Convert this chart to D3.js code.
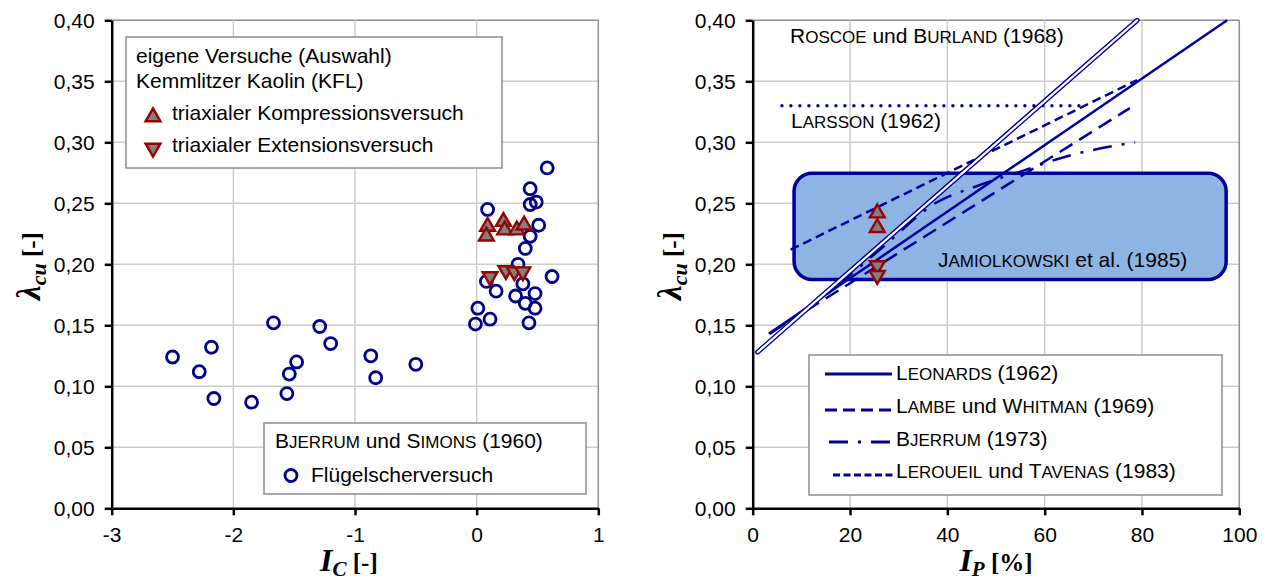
<!DOCTYPE html>
<html>
<head>
<meta charset="utf-8">
<script src="https://cdn.jsdelivr.net/npm/d3@7"></script>
<style>
  body { margin: 0; background: #fff; }
  text { font-family: "Liberation Sans", Arial, sans-serif; fill: #000; white-space: pre; }
</style>
</head>
<body>
<svg id="chart" width="1269" height="585"></svg>
<script>
"use strict";

// ---- Data, left chart (I_C vs lambda_cu) ----
// Bjerrum & Simons (1960), vane shear tests
var vaneIc     = [-2.50, -2.18, -2.28, -2.16, -1.85, -1.67, -1.48, -1.54, -1.56, -1.29, -1.20, -0.87, -0.83, -0.50,
                  -0.01, 0.01, 0.58, 0.44, 0.49, 0.44, 0.09, 0.51, 0.44, 0.40, 0.34, 0.62, 0.08, 0.38, 0.16, 0.32,
                  0.48, 0.40, 0.48, 0.11, 0.43];
var vaneLambda = [0.124, 0.132, 0.112, 0.090, 0.087, 0.152, 0.120, 0.110, 0.094, 0.149, 0.135, 0.125, 0.107, 0.118,
                  0.151, 0.164, 0.279, 0.262, 0.251, 0.249, 0.245, 0.232, 0.223, 0.213, 0.200, 0.190, 0.186, 0.184, 0.178, 0.174,
                  0.176, 0.168, 0.164, 0.155, 0.152];
// own tests, Kemmlitzer Kaolin
var compIc     = [0.09, 0.08, 0.22, 0.23, 0.33, 0.39];
var compLambda = [0.231, 0.223, 0.235, 0.228, 0.228, 0.232];
var extIc      = [0.11, 0.24, 0.31, 0.38];
var extLambda  = [0.190, 0.195, 0.194, 0.194];

// ---- Data, right chart (I_P vs lambda_cu) ----
var leonardsIp     = [3.3, 97.5];
var leonardsLambda = [0.143, 0.400];
var lambeIp        = [11, 77.5];
var lambeLambda    = [0.162, 0.328];
var bjerrumIp      = [3.5, 16, 27, 37.5, 46, 55, 65, 78.6];
var bjerrumLambda  = [0.143, 0.178, 0.215, 0.250, 0.264, 0.276, 0.289, 0.300];
var leroueilIp     = [7.8, 79];
var leroueilLambda = [0.212, 0.351];
var roscoeIp       = [1, 79];
var roscoeLambda   = [0.128, 0.400];
var larssonIp      = [6, 68];
var larssonLambda  = [0.33, 0.33];
var jamiolIp       = [8.5, 97.3];
var jamiolLambda   = [0.1875, 0.2746];
var ownCompIp      = [25.6, 25.6];
var ownCompLambda  = [0.242, 0.230];
var ownExtIp       = [25.6, 25.6];
var ownExtLambda   = [0.199, 0.191];

// ---- Axis ticks ----
var yTicks     = [0, 0.05, 0.10, 0.15, 0.20, 0.25, 0.30, 0.35, 0.40];
var icTicks    = [-3, -2, -1, 0, 1];
var ipTicks    = [0, 20, 40, 60, 80, 100];

// Colours
var blue = "#00009c";
var circleBlue = "#000088";
var darkRed = "#990000";

var svg = d3.select("#chart");
var fmt = d3.formatLocale({decimal: ",", thousands: ".", grouping: [3], currency: ["", "€"]}).format(".2f");

// Plot frames
var plotTop = 20.3, plotBottom = 508.3;
var y = d3.scaleLinear().domain([0, 0.4]).range([plotBottom, plotTop]);
var xL = d3.scaleLinear().domain([-3, 1]).range([111.7, 598.3]);
var xR = d3.scaleLinear().domain([0, 100]).range([752.7, 1239.3]);

// Text helper with mixed font sizes (small caps)
function rich(g, x, yy, pieces, anchor) {
  var t = g.append("text")
    .attr("x", x)
    .attr("y", yy)
    .attr("text-anchor", anchor || "start")
    .attr("font-size", 21);
  pieces.forEach(function (p) {
    t.append("tspan").attr("font-size", p[1]).text(p[0]);
  });
  return t;
}

// Frame, grid and axes for one chart
function drawFrame(x, ticks, fmtX) {
  var g = svg.append("g");
  // grid
  g.selectAll(".hgrid")
    .data(yTicks.slice(1))
    .enter().append("line")
      .attr("x1", x.range()[0]).attr("x2", x.range()[1])
      .attr("y1", d => y(d)).attr("y2", d => y(d))
      .attr("stroke", d => d === 0.4 ? "#8c8c8c" : "#cccccc")
      .attr("stroke-width", 1.5);
  g.selectAll(".vgrid")
    .data(ticks.slice(1))
    .enter().append("line")
      .attr("x1", d => x(d)).attr("x2", d => x(d))
      .attr("y1", plotTop).attr("y2", plotBottom)
      .attr("stroke", (d, i) => i === ticks.length - 2 ? "#8c8c8c" : "#cccccc")
      .attr("stroke-width", 1.5);

  var yAxis = g.append("g")
    .attr("transform", `translate(${x.range()[0]},0)`)
    .call(d3.axisLeft(y).tickValues(yTicks).tickFormat(fmt).tickSize(7).tickSizeOuter(0).tickPadding(10));
  var xAxis = g.append("g")
    .attr("transform", `translate(0,${plotBottom})`)
    .call(d3.axisBottom(x).tickValues(ticks).tickFormat(fmtX).tickSize(7).tickSizeOuter(0).tickPadding(12));
  [yAxis, xAxis].forEach(function (a) {
    a.select(".domain").attr("stroke", "#000").attr("stroke-width", 2.5);
    a.selectAll(".tick line").attr("stroke", "#000").attr("stroke-width", 2.5);
    a.selectAll(".tick text")
      .attr("font-size", 21)
      .attr("font-family", "'Liberation Sans', Arial, sans-serif")
      .attr("fill", "#000");
  });
  return g;
}

// Axis titles
function yTitle(cx) {
  var t = svg.append("g")
    .attr("transform", `translate(${cx},266) rotate(-90)`)
    .append("text")
      .attr("text-anchor", "middle")
      .style("font-family", "'Liberation Serif', 'Times New Roman', serif")
      .style("font-weight", "bold");
  t.append("tspan").attr("font-size", 33).style("font-style", "italic").text("λ");
  t.append("tspan").attr("font-size", 22).attr("dy", 6).style("font-style", "italic").text("cu");
  t.append("tspan").attr("font-size", 25).attr("dy", -6).text(" [-]");
}
function xTitle(cx, sub, unit) {
  var t = svg.append("text")
    .attr("x", cx)
    .attr("y", 571)
    .attr("text-anchor", "middle")
    .style("font-family", "'Liberation Serif', 'Times New Roman', serif")
    .style("font-weight", "bold");
  t.append("tspan").attr("font-size", 32).style("font-style", "italic").text("I");
  t.append("tspan").attr("font-size", 21).attr("dy", 5).style("font-style", "italic").text(sub);
  t.append("tspan").attr("font-size", 25).attr("dy", -5).text(" " + unit);
}

// Markers
var triUp = d3.symbol().type(d3.symbolTriangle).size(95);
function triangles(g, xs, ys, x, down) {
  g.selectAll(null)
    .data(xs.map((d, i) => [d, ys[i]]))
    .enter().append("path")
      .attr("d", triUp)
      .attr("transform", d => `translate(${x(d[0])},${y(d[1])})` + (down ? " rotate(180)" : ""))
      .attr("fill", "#808080")
      .attr("stroke", darkRed)
      .attr("stroke-width", 2.4);
}

// ================= LEFT CHART =================
drawFrame(xL, icTicks, d => String(d));
var left = svg.append("g");

left.selectAll(".vane")
  .data(vaneIc.map((d, i) => [d, vaneLambda[i]]))
  .enter().append("circle")
    .attr("cx", d => xL(d[0]))
    .attr("cy", d => y(d[1]))
    .attr("r", 6)
    .attr("fill", "none")
    .attr("stroke", circleBlue)
    .attr("stroke-width", 2.8);

triangles(left, compIc, compLambda, xL, false);
triangles(left, extIc, extLambda, xL, true);

// legend: own tests
left.append("rect")
  .attr("x", 126).attr("y", 37).attr("width", 376).attr("height", 131)
  .attr("fill", "#fff").attr("stroke", "#8c8c8c").attr("stroke-width", 1.5);
rich(left, 136, 63, [["eigene Versuche (Auswahl)", 21]]);
rich(left, 136, 88, [["Kemmlitzer Kaolin (KFL)", 21]]);
left.append("path").attr("d", triUp)
  .attr("transform", "translate(153,117)")
  .attr("fill", "#808080").attr("stroke", darkRed).attr("stroke-width", 2.4);
rich(left, 172, 120, [["triaxialer Kompressionsversuch", 21]]);
left.append("path").attr("d", triUp)
  .attr("transform", "translate(153,148) rotate(180)")
  .attr("fill", "#808080").attr("stroke", darkRed).attr("stroke-width", 2.4);
rich(left, 172, 152, [["triaxialer Extensionsversuch", 21]]);

// legend: Bjerrum & Simons
left.append("rect")
  .attr("x", 264).attr("y", 423).attr("width", 322).attr("height", 71)
  .attr("fill", "#fff").attr("stroke", "#8c8c8c").attr("stroke-width", 1.5);
rich(left, 275, 448, [["B", 21], ["JERRUM", 17], [" und ", 21], ["S", 21], ["IMONS", 17], [" (1960)", 21]]);
left.append("circle")
  .attr("cx", 291).attr("cy", 475.5).attr("r", 6)
  .attr("fill", "none").attr("stroke", circleBlue).attr("stroke-width", 2.8);
rich(left, 311, 482, [["Flügelscherversuch", 21]]);

yTitle(40);
xTitle(xL(-1.05), "C", "[-]");

// ================= RIGHT CHART =================
drawFrame(xR, ipTicks, d => String(d));
var right = svg.append("g");

// Jamiolkowski et al. (1985) range
right.append("rect")
  .attr("x", xR(jamiolIp[0]))
  .attr("y", y(jamiolLambda[1]))
  .attr("width", xR(jamiolIp[1]) - xR(jamiolIp[0]))
  .attr("height", y(jamiolLambda[0]) - y(jamiolLambda[1]))
  .attr("rx", 18).attr("ry", 18)
  .attr("fill", "#8db4e2")
  .attr("stroke", blue)
  .attr("stroke-width", 3.5);
rich(right, 938, 267, [["J", 21], ["AMIOLKOWSKI", 17], [" et al. (1985)", 21]]);

var line = d3.line().x(d => xR(d[0])).y(d => y(d[1]));
var curve = d3.line().x(d => xR(d[0])).y(d => y(d[1])).curve(d3.curveMonotoneX);
function series(xs, ys) { return xs.map((d, i) => [d, ys[i]]); }

// Larsson (1962), dotted
right.append("path")
  .datum(series(larssonIp, larssonLambda))
  .attr("d", line)
  .attr("fill", "none").attr("stroke", blue)
  .attr("stroke-width", 3.5).attr("stroke-linecap", "round")
  .attr("stroke-dasharray", "0 9");

// Leroueil & Tavenas (1983), short dashes
right.append("path")
  .datum(series(leroueilIp, leroueilLambda))
  .attr("d", line)
  .attr("fill", "none").attr("stroke", blue)
  .attr("stroke-width", 2.5).attr("stroke-dasharray", "9 5");

// Lambe & Whitman (1969), long dashes
right.append("path")
  .datum(series(lambeIp, lambeLambda))
  .attr("d", line)
  .attr("fill", "none").attr("stroke", blue)
  .attr("stroke-width", 2.5).attr("stroke-dasharray", "15 8");

// Bjerrum (1973), dash-dot
right.append("path")
  .datum(series(bjerrumIp, bjerrumLambda))
  .attr("d", curve)
  .attr("fill", "none").attr("stroke", blue)
  .attr("stroke-width", 2.5).attr("stroke-dasharray", "19 10 3 10");

// Leonards (1962), solid
right.append("path")
  .datum(series(leonardsIp, leonardsLambda))
  .attr("d", line)
  .attr("fill", "none").attr("stroke", blue)
  .attr("stroke-width", 2.5);

// Roscoe & Burland (1968), double line
right.append("path")
  .datum(series(roscoeIp, roscoeLambda))
  .attr("d", line)
  .attr("fill", "none").attr("stroke", blue)
  .attr("stroke-width", 5).attr("stroke-linecap", "round");
right.append("path")
  .datum(series(roscoeIp, roscoeLambda))
  .attr("d", line)
  .attr("fill", "none").attr("stroke", "#fff")
  .attr("stroke-width", 2.2).attr("stroke-linecap", "round");

triangles(right, ownCompIp, ownCompLambda, xR, false);
triangles(right, ownExtIp, ownExtLambda, xR, true);

rich(right, 790, 43, [["R", 21], ["OSCOE", 17], [" und ", 21], ["B", 21], ["URLAND", 17], [" (1968)", 21]]);
rich(right, 791, 128, [["L", 21], ["ARSSON", 17], [" (1962)", 21]]);

// legend of the correlations
var leg = right.append("g");
leg.append("rect")
  .attr("x", 809).attr("y", 355).attr("width", 413).attr("height", 140)
  .attr("fill", "#fff").attr("stroke", "#8c8c8c").attr("stroke-width", 1.5);

var legDash = ["none", "12 6", "19 10 3 10", "7 3.5"];
var legX1 = [825, 825, 829, 833];
var legLineY = [374, 410, 442, 475];
var legTextY = [380, 413, 446, 478];
var legText = [
  [["L", 21], ["EONARDS", 17], [" (1962)", 21]],
  [["L", 21], ["AMBE", 17], [" und ", 21], ["W", 21], ["HITMAN", 17], [" (1969)", 21]],
  [["B", 21], ["JERRUM", 17], [" (1973)", 21]],
  [["L", 21], ["EROUEIL", 17], [" und ", 21], ["T", 21], ["AVENAS", 17], [" (1983)", 21]]
];
legDash.forEach(function (dash, i) {
  leg.append("line")
    .attr("x1", legX1[i]).attr("x2", i === 3 ? 896 : 892)
    .attr("y1", legLineY[i]).attr("y2", legLineY[i])
    .attr("stroke", blue).attr("stroke-width", 3)
    .attr("stroke-dasharray", dash);
  rich(leg, 896, legTextY[i], legText[i]);
});

yTitle(681);
xTitle(xR(50), "P", "[%]");
</script>
</body>
</html>
